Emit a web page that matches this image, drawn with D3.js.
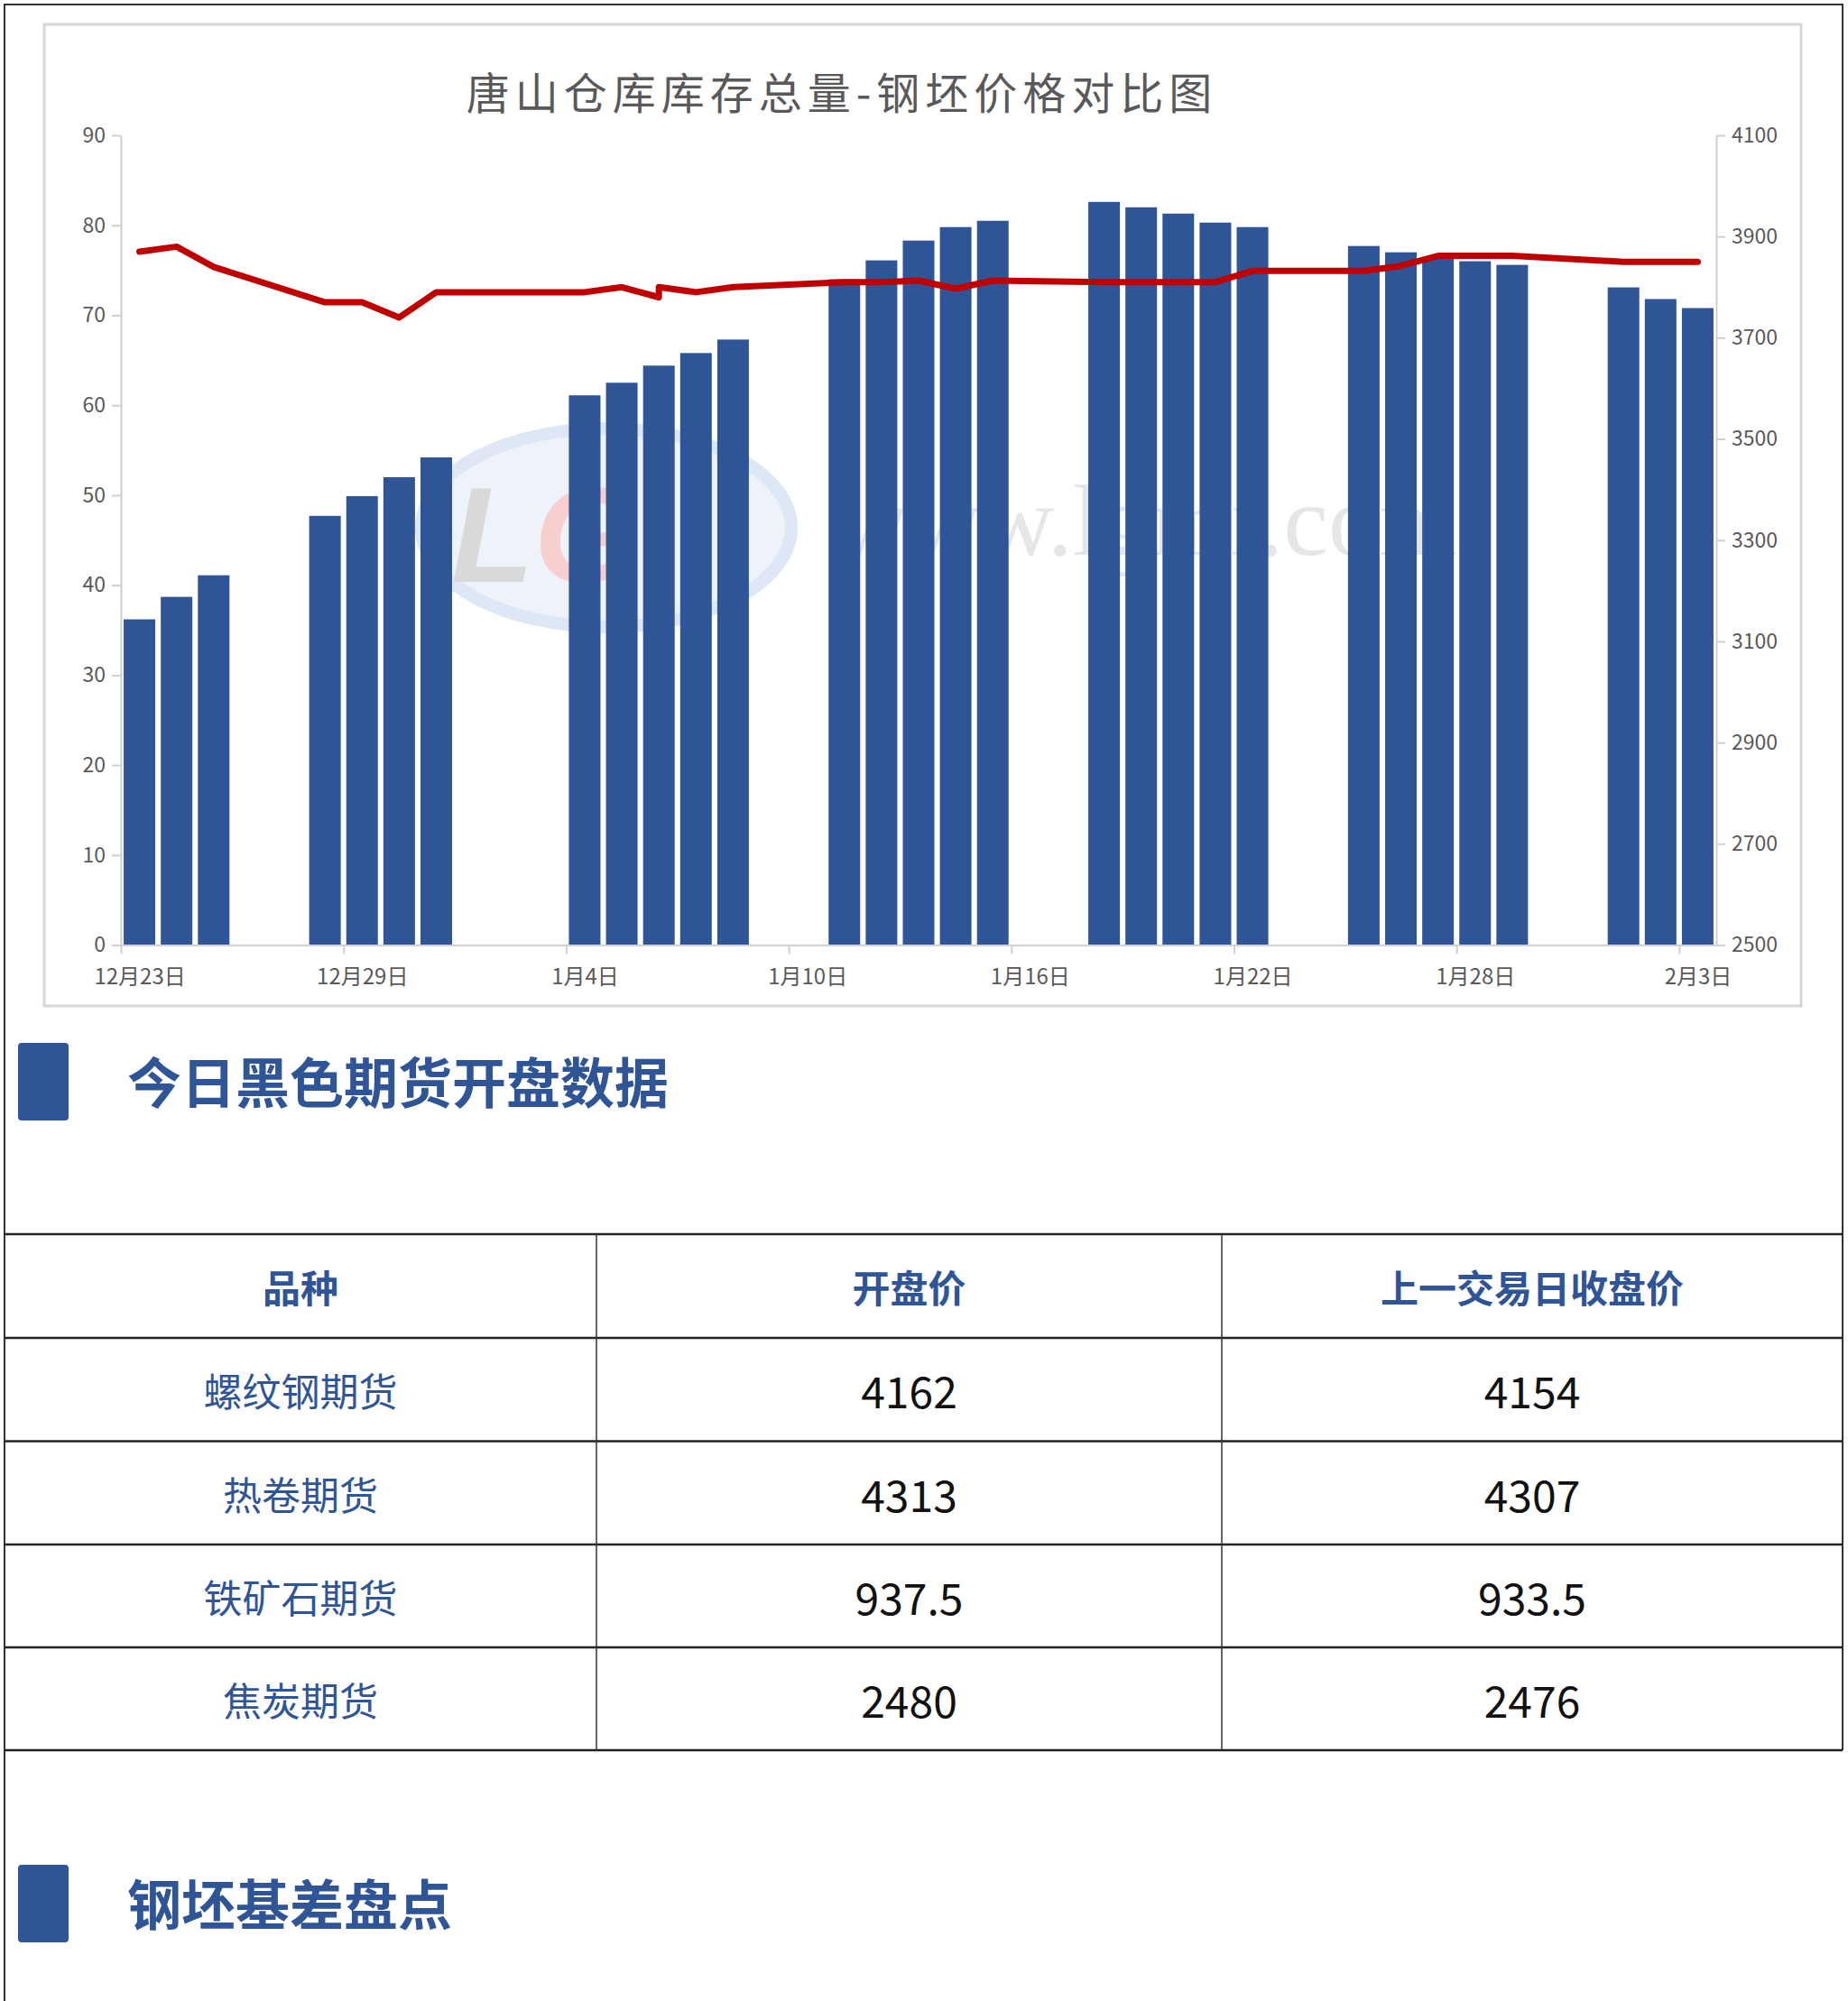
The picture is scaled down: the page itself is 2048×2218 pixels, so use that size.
<!DOCTYPE html>
<html>
<head>
<meta charset="utf-8">
<script src="https://cdn.jsdelivr.net/npm/d3@7/dist/d3.min.js"></script>
<style>
  body { margin: 0; background: #fff; }
  svg { display: block; }
</style>
</head>
<body>
<div id="page"></div>
<script>
/////////////////////////////////////
/// data
/////////////////////////////////////

var chartTitle = "唐山仓库库存总量-钢坯价格对比图";

// inventory bars (left axis)
var barDates = [
  "2020-12-23", "2020-12-24", "2020-12-25",
  "2020-12-28", "2020-12-29", "2020-12-30", "2020-12-31",
  "2021-01-04", "2021-01-05", "2021-01-06", "2021-01-07", "2021-01-08",
  "2021-01-11", "2021-01-12", "2021-01-13", "2021-01-14", "2021-01-15",
  "2021-01-18", "2021-01-19", "2021-01-20", "2021-01-21", "2021-01-22",
  "2021-01-25", "2021-01-26", "2021-01-27", "2021-01-28", "2021-01-29",
  "2021-02-01", "2021-02-02", "2021-02-03"
];
var inventory = [
  36.2, 38.7, 41.1,
  47.7, 49.9, 52.0, 54.2,
  61.1, 62.5, 64.4, 65.8, 67.3,
  74.0, 76.1, 78.3, 79.8, 80.5,
  82.6, 82.0, 81.3, 80.3, 79.8,
  77.7, 77.0, 76.3, 76.0, 75.6,
  73.1, 71.8, 70.8
];

// billet price line (right axis) - 1/6 appears twice in the source series
var lineDates = [
  "2020-12-23", "2020-12-24", "2020-12-25",
  "2020-12-28", "2020-12-29", "2020-12-30", "2020-12-31",
  "2021-01-04", "2021-01-05", "2021-01-06", "2021-01-06", "2021-01-07", "2021-01-08",
  "2021-01-11", "2021-01-12", "2021-01-13", "2021-01-14", "2021-01-15",
  "2021-01-18", "2021-01-19", "2021-01-20", "2021-01-21", "2021-01-22",
  "2021-01-25", "2021-01-26", "2021-01-27", "2021-01-28", "2021-01-29",
  "2021-02-01", "2021-02-02", "2021-02-03"
];
var billetPrice = [
  3870, 3880, 3840,
  3770, 3770, 3740, 3790,
  3790, 3800, 3780, 3800, 3790, 3800,
  3810, 3810, 3813, 3797, 3813,
  3810, 3810, 3810, 3810, 3832,
  3832, 3842, 3862, 3862, 3862,
  3850, 3850, 3850
];

var xTickDates = ["2020-12-23", "2020-12-29", "2021-01-04", "2021-01-10",
                  "2021-01-16", "2021-01-22", "2021-01-28", "2021-02-03"];
var leftTicks = [0, 10, 20, 30, 40, 50, 60, 70, 80, 90];
var rightTicks = [2500, 2700, 2900, 3100, 3300, 3500, 3700, 3900, 4100];

// table
var section1Title = "今日黑色期货开盘数据";
var section2Title = "钢坯基差盘点";
var tableHeaders = ["品种", "开盘价", "上一交易日收盘价"];
var varieties = ["螺纹钢期货", "热卷期货", "铁矿石期货", "焦炭期货"];
var openPrices = ["4162", "4313", "937.5", "2480"];
var prevClose = ["4154", "4307", "933.5", "2476"];

/////////////////////////////////////
/// drawing
/////////////////////////////////////

var W = 2048, H = 2218;
var BLUE = "#2f5597", RED = "#c00000", AXIS = "#d0d0d0", LABEL = "#595959";
var FONT = "'Noto Sans CJK SC', 'Noto Sans', sans-serif";
var parse = d3.timeParse("%Y-%m-%d");

var svg = d3.select("#page").append("svg")
  .attr("width", W).attr("height", H)
  .attr("viewBox", "0 0 " + W + " " + H)
  .style("font-family", FONT);

svg.append("rect").attr("width", W).attr("height", H).attr("fill", "#fff");

// page frame
svg.append("path")
  .attr("d", "M5,2230 V5 H2042 V1940")
  .attr("fill", "none").attr("stroke", "#333").attr("stroke-width", 2);

// chart frame
svg.append("rect")
  .attr("x", 49).attr("y", 27).attr("width", 1947).attr("height", 1088)
  .attr("fill", "#fff").attr("stroke", "#d6d6d6").attr("stroke-width", 3);

svg.append("text")
  .attr("x", 933).attr("y", 100)
  .attr("text-anchor", "middle").attr("dominant-baseline", "central")
  .attr("font-size", 48).attr("letter-spacing", 6)
  .attr("fill", LABEL)
  .text(chartTitle);

// scales
var plotLeft = 134, plotRight = 1902, plotTop = 150, plotBottom = 1047.5;
var xScale = d3.scaleTime()
  .domain([parse("2020-12-23"), parse("2021-02-04")])
  .range([plotLeft, plotRight]);
var dayW = xScale(parse("2020-12-24")) - xScale(parse("2020-12-23"));
var yLeft = d3.scaleLinear().domain([0, 90]).range([plotBottom, plotTop]);
var yRight = d3.scaleLinear().domain([2500, 4100]).range([plotBottom, plotTop]);

// faint watermark behind the marks
var wm = svg.append("g").attr("opacity", 0.5);
wm.append("ellipse").attr("cx", 672).attr("cy", 585).attr("rx", 205).attr("ry", 110)
  .attr("fill", "#dfe9f5").attr("stroke", "#bcd1ec").attr("stroke-width", 14);
wm.append("text").attr("x", 500).attr("y", 645)
  .attr("font-family", "'Liberation Sans', sans-serif").attr("font-weight", 700)
  .attr("font-style", "italic").attr("font-size", 150)
  .selectAll("tspan").data([["L", "#b5b5b5"], ["G", "#f0a0a0"]]).enter().append("tspan")
  .attr("fill", function(d) { return d[1]; })
  .text(function(d) { return d[0]; });
wm.append("text").attr("x", 1615).attr("y", 615).attr("text-anchor", "end")
  .attr("font-family", "'Liberation Serif', serif").attr("font-size", 112)
  .attr("fill", "#cfcfcf")
  .text("www.lgmi.com");

// bars
var barW = 35;
svg.append("g").selectAll("rect")
  .data(barDates.map(function(d, i) { return { date: parse(d), v: inventory[i] }; }))
  .enter().append("rect")
  .attr("x", function(d) { return xScale(d.date) + (dayW - barW) / 2; })
  .attr("y", function(d) { return yLeft(d.v); })
  .attr("width", barW)
  .attr("height", function(d) { return plotBottom - yLeft(d.v); })
  .attr("fill", BLUE);

// axes
function styleAxis(g) {
  g.selectAll(".domain").attr("stroke", AXIS).attr("stroke-width", 2);
  g.selectAll(".tick line").attr("stroke", AXIS).attr("stroke-width", 2);
  g.selectAll(".tick text").attr("fill", LABEL).attr("font-size", 23)
    .attr("font-family", FONT);
}

var leftAxis = d3.axisLeft(yLeft).tickValues(leftTicks).tickSize(10).tickPadding(7)
  .tickSizeOuter(0).tickFormat(d3.format("d"));
svg.append("g").attr("transform", "translate(" + plotLeft + ",0)").call(leftAxis).call(styleAxis);

var rightAxis = d3.axisRight(yRight).tickValues(rightTicks).tickSize(10).tickPadding(7)
  .tickSizeOuter(0).tickFormat(d3.format("d"));
svg.append("g").attr("transform", "translate(" + plotRight + ",0)").call(rightAxis).call(styleAxis);

var xAxis = d3.axisBottom(xScale)
  .tickValues(xTickDates.map(parse))
  .tickSize(10).tickSizeOuter(0)
  .tickFormat(function(d) { return (d.getMonth() + 1) + "月" + d.getDate() + "日"; });
var xg = svg.append("g").attr("transform", "translate(0," + plotBottom + ")").call(xAxis).call(styleAxis);
xg.selectAll(".tick text").attr("x", dayW / 2).attr("dy", null).attr("y", 33)
  .attr("dominant-baseline", "central").attr("font-size", 24);

// price line
var line = d3.line()
  .x(function(d) { return xScale(d.date) + dayW / 2; })
  .y(function(d) { return yRight(d.v); });
svg.append("path")
  .datum(lineDates.map(function(d, i) { return { date: parse(d), v: billetPrice[i] }; }))
  .attr("d", line)
  .attr("fill", "none").attr("stroke", RED).attr("stroke-width", 7)
  .attr("stroke-linejoin", "round").attr("stroke-linecap", "round");

/////////////////////////////////////
/// section headings
/////////////////////////////////////

function heading(y, label) {
  svg.append("rect").attr("x", 20).attr("y", y - 43).attr("width", 56).attr("height", 86)
    .attr("rx", 4).attr("fill", BLUE);
  svg.append("text").attr("x", 141).attr("y", y - 3)
    .attr("dominant-baseline", "central")
    .attr("font-size", 60).attr("font-weight", 700).attr("fill", BLUE)
    .text(label);
}
heading(1199, section1Title);
heading(2110, section2Title);

/////////////////////////////////////
/// table
/////////////////////////////////////

var colEdges = [5, 661, 1354, 2042];
var rowEdges = [1368, 1483, 1597.5, 1712, 1826, 1940];
var table = svg.append("g");

rowEdges.forEach(function(y) {
  table.append("line").attr("x1", 5).attr("x2", 2042).attr("y1", y).attr("y2", y)
    .attr("stroke", "#222").attr("stroke-width", 2.5);
});
colEdges.slice(1, 3).forEach(function(x) {
  table.append("line").attr("x1", x).attr("x2", x)
    .attr("y1", rowEdges[0]).attr("y2", rowEdges[rowEdges.length - 1])
    .attr("stroke", "#333").attr("stroke-width", 1.5);
});

function colCenter(i) { return (colEdges[i] + colEdges[i + 1]) / 2; }
function rowCenter(i) { return (rowEdges[i] + rowEdges[i + 1]) / 2; }

table.selectAll(".head").data(tableHeaders).enter().append("text")
  .attr("x", function(d, i) { return colCenter(i); })
  .attr("y", rowCenter(0))
  .attr("text-anchor", "middle").attr("dominant-baseline", "central")
  .attr("font-size", 42).attr("font-weight", 700).attr("fill", BLUE)
  .text(function(d) { return d; });

var rows = varieties.map(function(v, i) { return [v, openPrices[i], prevClose[i]]; });
rows.forEach(function(r, ri) {
  r.forEach(function(cell, ci) {
    table.append("text")
      .attr("x", colCenter(ci))
      .attr("y", rowCenter(ri + 1))
      .attr("text-anchor", "middle").attr("dominant-baseline", "central")
      .attr("font-size", ci == 0 ? 43 : 48)
      .attr("fill", ci == 0 ? BLUE : "#111")
      .text(cell);
  });
});
</script>
</body>
</html>
